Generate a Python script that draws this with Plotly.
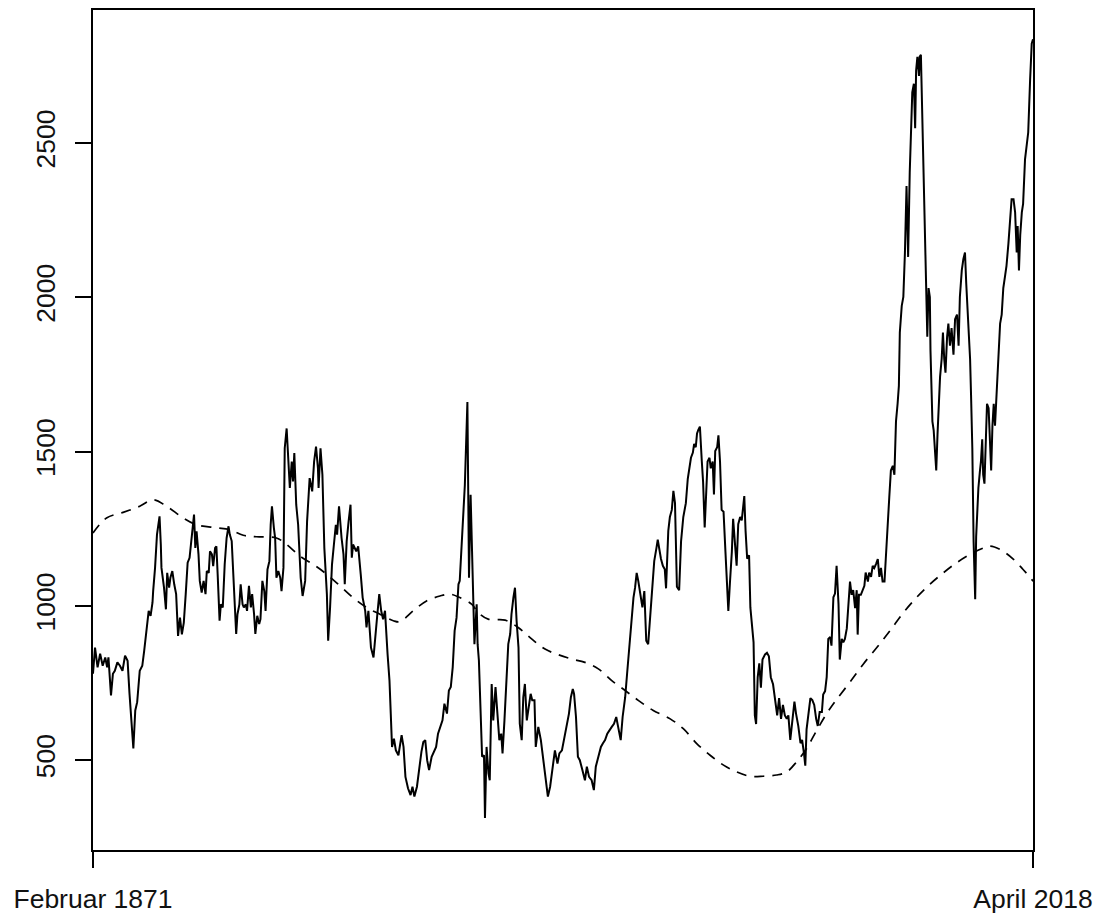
import plotly.graph_objects as go

# ---- data ----
price_years = [
    1871.08, 1871.4, 1871.8, 1872.2, 1872.6, 1873.0, 1873.3, 1873.5, 1873.9, 1874.2, 1874.5, 1874.9,
    1875.3, 1875.7, 1876.1, 1876.5, 1876.8, 1877.1, 1877.4, 1877.7, 1878.0, 1878.4, 1878.8, 1879.1,
    1879.5, 1879.8, 1880.1, 1880.4, 1880.5, 1880.8, 1881.1, 1881.5, 1881.7, 1881.8, 1882.2, 1882.5,
    1882.7, 1883.0, 1883.2, 1883.5, 1883.8, 1884.1, 1884.4, 1884.7, 1885.0, 1885.3, 1885.6, 1885.9,
    1886.2, 1886.4, 1886.7, 1886.9, 1887.1, 1887.3, 1887.6, 1887.8, 1888.1, 1888.4, 1888.7, 1888.9,
    1889.2, 1889.4, 1889.7, 1889.9, 1890.2, 1890.4, 1890.6, 1890.9, 1891.1, 1891.4, 1891.7, 1892.0,
    1892.3, 1892.5, 1892.8, 1893.1, 1893.5, 1893.7, 1894.0, 1894.2, 1894.5, 1894.7, 1895.0, 1895.2,
    1895.5, 1895.8, 1896.0, 1896.3, 1896.5, 1896.8, 1897.1, 1897.3, 1897.6, 1897.9, 1898.1, 1898.4,
    1898.7, 1898.9, 1899.1, 1899.4, 1899.6, 1899.8, 1900.1, 1900.4, 1900.6, 1900.9,
    1901.1, 1901.4, 1901.7, 1901.9, 1902.2, 1902.4, 1902.6, 1902.9, 1903.2, 1903.6, 1903.9, 1904.3,
    1904.6, 1905.0, 1905.4, 1905.7, 1906.0, 1906.3, 1906.4, 1906.7, 1907.0, 1907.3, 1907.7, 1907.9,
    1908.2, 1908.5, 1908.8, 1909.1, 1909.3, 1909.6, 1910.0, 1910.3, 1910.5, 1910.8, 1911.1, 1911.4,
    1911.6, 1911.8, 1912.3, 1912.6, 1913.0, 1913.3, 1913.7, 1913.9, 1914.2, 1914.6, 1915.0, 1915.3,
    1915.6, 1915.9, 1916.2, 1916.5, 1916.8, 1917.2, 1917.5, 1917.7, 1917.9, 1918.2, 1918.5, 1918.9,
    1919.1, 1919.4, 1919.7, 1920.0, 1920.4, 1920.8, 1921.1, 1921.4, 1921.8, 1922.2, 1922.5, 1922.8,
    1923.1, 1923.4, 1923.7, 1924.1, 1924.5, 1924.8, 1925.1, 1925.4, 1925.8, 1926.1, 1926.5, 1926.8,
    1927.1, 1927.4, 1927.7, 1928.0, 1928.3, 1928.5, 1928.8, 1929.1, 1929.3,
    1929.7, 1929.95, 1930.2, 1930.5, 1930.8, 1931.15, 1931.3, 1931.5, 1931.8, 1932.0, 1932.3, 1932.45,
    1932.7, 1933.0, 1933.2, 1933.5, 1933.75, 1934.1, 1934.4, 1934.7, 1935.0, 1935.2, 1935.5, 1935.85,
    1936.1, 1936.4, 1936.6, 1936.9, 1937.15, 1937.4, 1937.7, 1937.9, 1938.2, 1938.45, 1938.7, 1939.0,
    1939.35, 1939.6, 1939.85, 1940.2, 1940.4, 1940.8, 1941.2, 1941.5, 1941.7, 1942.0, 1942.3, 1942.65,
    1943.0, 1943.4, 1943.8, 1944.1, 1944.5, 1944.8, 1945.2, 1945.6, 1945.9, 1946.2, 1946.4, 1946.7,
    1947.0, 1947.3, 1947.7, 1948.1, 1948.4, 1948.75, 1949.15, 1949.5, 1949.8, 1950.2, 1950.6, 1950.9,
    1951.25, 1951.6, 1951.9, 1952.3, 1952.65, 1953.0, 1953.3, 1953.7, 1954.0, 1954.4, 1954.7, 1955.05,
    1955.4, 1955.7, 1955.95, 1956.2, 1956.45, 1956.8, 1957.1, 1957.4, 1957.7, 1958.0, 1958.35, 1958.65,
    1958.95, 1959.3, 1959.5,
    1960.0, 1960.3, 1960.6, 1960.8, 1961.15, 1961.4, 1961.7, 1961.95, 1962.2, 1962.5, 1962.85, 1963.15,
    1963.5, 1963.9, 1964.2, 1964.45, 1964.7, 1965.0, 1965.2, 1965.45, 1965.65, 1965.85, 1966.1, 1966.4,
    1966.6, 1966.85, 1967.05, 1967.3, 1967.6, 1967.8, 1968.1, 1968.3, 1968.5, 1968.8, 1969.0, 1969.25,
    1969.5, 1969.8, 1970.1, 1970.35, 1970.55, 1970.8, 1971.1, 1971.3, 1971.6, 1971.85, 1972.1, 1972.4,
    1972.65, 1972.85, 1973.05, 1973.25, 1973.5, 1973.8, 1974.0, 1974.2, 1974.5, 1974.7, 1974.9, 1975.15,
    1975.4, 1975.65, 1975.9, 1976.3, 1976.6, 1976.9, 1977.2, 1977.55, 1977.85, 1978.2, 1978.5, 1978.8,
    1979.1, 1979.4, 1979.7, 1979.95, 1980.25, 1980.6, 1980.9, 1981.15, 1981.5, 1981.85, 1982.1, 1982.4,
    1982.6, 1982.8, 1983.05, 1983.4, 1983.7, 1984.0, 1984.3, 1984.55, 1984.85, 1985.2, 1985.4, 1985.7,
    1985.95, 1986.2, 1986.5, 1986.7, 1987.0, 1987.25, 1987.5, 1987.8, 1988.0, 1988.3, 1988.55, 1988.8,
    1989.1,
    1989.6, 1989.85, 1990.1, 1990.4, 1990.65, 1990.8, 1991.0, 1991.3, 1991.6, 1991.85, 1992.05, 1992.4,
    1992.6, 1992.9, 1993.15, 1993.4, 1993.7, 1993.95, 1994.2, 1994.45, 1994.7, 1995.0, 1995.2, 1995.45,
    1995.75, 1996.0, 1996.3, 1996.55, 1996.8, 1997.05, 1997.25, 1997.4, 1997.7, 1997.95, 1998.2, 1998.45,
    1998.7, 1998.95, 1999.15, 1999.35, 1999.6, 1999.8, 1999.95, 2000.15, 2000.4, 2000.5, 2000.7, 2000.9,
    2001.1, 2001.3, 2001.5, 2001.7, 2001.9, 2002.1, 2002.2, 2002.5, 2002.7, 2002.9, 2003.1, 2003.3,
    2003.5, 2003.7, 2003.95, 2004.15, 2004.35, 2004.55, 2004.8, 2005.0, 2005.25, 2005.5, 2005.8, 2006.05,
    2006.35, 2006.6, 2006.8, 2007.1, 2007.35, 2007.6, 2007.8, 2008.15, 2008.4, 2008.55, 2008.75, 2008.95,
    2009.2, 2009.35, 2009.55, 2009.7, 2009.95, 2010.1, 2010.3, 2010.45, 2010.65, 2010.85, 2011.05, 2011.3,
    2011.5, 2011.7, 2011.9, 2012.1, 2012.3, 2012.6, 2012.85, 2013.1, 2013.35, 2013.6, 2013.9, 2014.1,
    2014.4, 2014.65, 2014.9, 2015.2, 2015.45, 2015.7, 2015.85, 2016.05, 2016.25, 2016.5, 2016.7, 2017.0,
    2017.25, 2017.5, 2017.8, 2018.05, 2018.25,
]

price_values = [
    780, 865, 801, 845, 806, 833, 801, 833, 710, 780, 790, 817,
    806, 790, 839, 822, 715, 629, 538, 661, 688, 790, 806, 855,
    941, 984, 968, 1011, 1048, 1124, 1231, 1290, 1199, 1124, 1059, 989,
    1107, 1059, 1091, 1113, 1070, 1038, 903, 962, 908, 946, 1038, 1140,
    1156, 1199, 1274, 1296, 1188, 1242, 1167, 1081, 1043, 1081, 1038, 1113,
    1107, 1177, 1167, 1129, 1188, 1193, 1102, 952, 1005, 995, 1134, 1220,
    1258, 1231, 1210, 1081, 909, 973, 1005, 1070, 1005, 995, 1005, 984,
    1065, 995, 1038, 973, 909, 968, 941, 957, 1081, 1048, 984, 1118,
    1145, 1263, 1323, 1253, 1220, 1091, 1113, 1091, 1048, 1124,
    1511, 1575, 1446, 1382, 1468, 1403, 1495, 1328, 1263, 1091, 1032, 1081,
    1274, 1414, 1371, 1468, 1516, 1446, 1382, 1511, 1425, 1188, 1038, 887,
    995, 1134, 1199, 1263, 1231, 1323, 1220, 1167, 1070, 1210, 1274, 1328,
    1156, 1199, 1177, 1193, 1102, 1027, 984, 930, 984, 865, 833, 919,
    973, 1038, 984, 957, 984, 844, 758, 651, 543, 570, 532, 516,
    543, 581, 543, 446, 409, 387, 414, 382, 414, 489, 527, 559,
    565, 500, 468, 511, 527, 543, 586, 608, 629, 683, 651, 726,
    737, 801, 919, 962, 1070, 1081, 1210, 1349, 1392,
    1661, 1091, 1360, 1156, 876, 1005, 876, 823, 629, 511, 516, 313,
    543, 457, 435, 747, 629, 737, 651, 565, 586, 522, 629, 801,
    876, 909, 973, 1027, 1059, 952, 865, 618, 565, 704, 747, 629,
    672, 715, 694, 694, 543, 608, 565, 511, 489, 435, 382, 414,
    479, 532, 489, 522, 532, 565, 597, 651, 704, 731, 715, 640,
    511, 500, 468, 435, 479, 446, 435, 403, 479, 511, 543, 554,
    565, 586, 597, 608, 618, 640, 608, 565, 640, 704, 780, 865,
    973, 1027, 1059, 1107, 1081, 1038, 995, 1048, 887, 876, 973, 1059,
    1145, 1188, 1215,
    1153, 1130, 1119, 1057, 1243, 1288, 1311, 1373, 1333, 1062, 1051, 1209,
    1288, 1333, 1412, 1446, 1480, 1497, 1525, 1514, 1559, 1570, 1581, 1468,
    1401, 1254, 1356, 1468, 1480, 1446, 1468, 1361, 1502, 1514, 1553, 1468,
    1311, 1305, 1175, 1074, 984, 1074, 1175, 1282, 1198, 1130, 1265, 1288,
    1277, 1311, 1356, 1243, 1153, 1164, 995, 950, 882, 645, 617, 769,
    814, 735, 826, 843, 848, 837, 769, 746, 690, 645, 701, 634,
    679, 645, 634, 645, 566, 645, 690, 651, 611, 555, 566, 521,
    482, 600, 645, 701, 695, 679, 634, 611, 656, 656, 713, 724,
    769, 893, 899, 871, 1028, 1040, 1130, 1006, 826, 893, 882, 893,
    927,
    1079, 1036, 1051, 993, 1051, 907, 1036, 1036, 1051, 1065, 1108, 1079,
    1108, 1094, 1130, 1123, 1137, 1152, 1094, 1123, 1079, 1079, 1152, 1267,
    1353, 1439, 1454, 1425, 1598, 1655, 1713, 1886, 1972, 2001, 2145, 2361,
    2131, 2404, 2520, 2664, 2692, 2548, 2735, 2779, 2717, 2779, 2786, 2592,
    2433, 2174, 2059, 1872, 2030, 2001, 1828, 1598, 1569, 1483, 1439, 1555,
    1670, 1742, 1800, 1886, 1800, 1756, 1872, 1915, 1843, 1900, 1814, 1929,
    1944, 1843, 2001, 2087, 2124, 2145, 2044, 1900, 1800, 1684, 1512, 1209,
    1022, 1224, 1324, 1382, 1439, 1468, 1540, 1425, 1396, 1512, 1655, 1641,
    1512, 1439, 1584, 1655, 1584, 1699, 1828, 1915, 1944, 2030, 2073, 2102,
    2174, 2260, 2318, 2318, 2275, 2145, 2231, 2087, 2202, 2275, 2303, 2447,
    2491, 2534, 2707, 2822, 2836,
]

trend_years = [
    1871.08, 1873.2, 1875.8, 1878.4, 1880.5, 1882.6, 1885.2, 1887.3, 1890.4, 1892.5, 1894.6, 1896.7,
    1899.8, 1901.4, 1903.5, 1905.6, 1907.7, 1909.75, 1911.8, 1913.9, 1916.0, 1918.1, 1919.15, 1921.2,
    1923.3, 1925.4, 1926.95, 1928.5, 1930.4, 1931.4, 1932.95, 1935.6, 1937.65, 1939.75, 1941.85, 1943.9,
    1946.0, 1948.1, 1950.2, 1952.3, 1954.4, 1956.45, 1958.8, 1961.45, 1963.5, 1965.6, 1967.7, 1969.8,
    1971.85, 1973.95, 1976.0, 1978.1, 1979.7, 1981.25, 1982.8, 1984.4, 1985.95, 1987.4, 1989.6, 1991.7,
    1993.8, 1995.85, 1997.95, 2000.0, 2002.1, 2004.2, 2006.3, 2008.4, 2010.5, 2011.5, 2013.1, 2015.2,
    2016.7, 2018.05, 2018.25,
]

trend_values = [
    1236, 1285, 1303, 1323, 1344, 1323, 1285, 1263, 1253, 1247, 1229, 1224,
    1220, 1199, 1161, 1134, 1102, 1065, 1027, 995, 973, 952, 949, 984,
    1016, 1032, 1038, 1027, 1005, 978, 957, 954, 930, 893, 860, 842,
    828, 817, 796, 758, 726, 694, 661, 634, 602, 554, 516, 484,
    462, 448, 448, 452, 462, 495, 538, 597, 651, 694, 753, 812,
    865, 919, 978, 1027, 1070, 1107, 1140, 1167, 1188, 1194, 1183, 1151,
    1118, 1086, 1080,
]

x_tick_values = [1871.083, 2018.25]
x_tick_labels = ["Februar 1871", "April 2018"]
y_tick_values = [500, 1000, 1500, 2000, 2500]

# ---- figure ----
fig = go.Figure()
fig.add_trace(go.Scatter(
    x=price_years, y=price_values, mode="lines",
    line=dict(color="black", width=2), showlegend=False, hoverinfo="skip",
))
fig.add_trace(go.Scatter(
    x=trend_years, y=trend_values, mode="lines", line_shape="spline",
    line=dict(color="black", width=1.7, dash="10px,8px"), showlegend=False, hoverinfo="skip",
))

font_family = "Liberation Sans, Arial, sans-serif"

# page body has an 8px margin, so the figure is 8px smaller and margins shifted
fig.update_layout(
    width=1094, height=909,
    margin=dict(l=85, r=69, t=0, b=67, pad=0),
    paper_bgcolor="white", plot_bgcolor="white",
    font=dict(family=font_family, size=26.5, color="black"),
)
fig.update_xaxes(
    range=[x_tick_values[0], x_tick_values[1]],
    tickmode="array", tickvals=x_tick_values, ticktext=x_tick_labels,
    ticks="outside", ticklen=16, tickwidth=1.6, tickcolor="black",
    showline=True, linecolor="black", linewidth=1.6, mirror=True,
    showgrid=False, zeroline=False,
    tickfont=dict(family=font_family, size=26.5, color="#111111"),
    ticklabelstandoff=8,
)
fig.update_yaxes(
    range=[209, 2931],
    tickmode="array", tickvals=y_tick_values,
    ticks="outside", ticklen=16, tickwidth=1.6, tickcolor="black",
    showline=True, linecolor="black", linewidth=1.6, mirror=True,
    showgrid=False, zeroline=False, tickangle=-90,
    tickfont=dict(family=font_family, size=26.5, color="#111111"),
    ticklabelstandoff=10,
)

fig.write_html("out.html")
